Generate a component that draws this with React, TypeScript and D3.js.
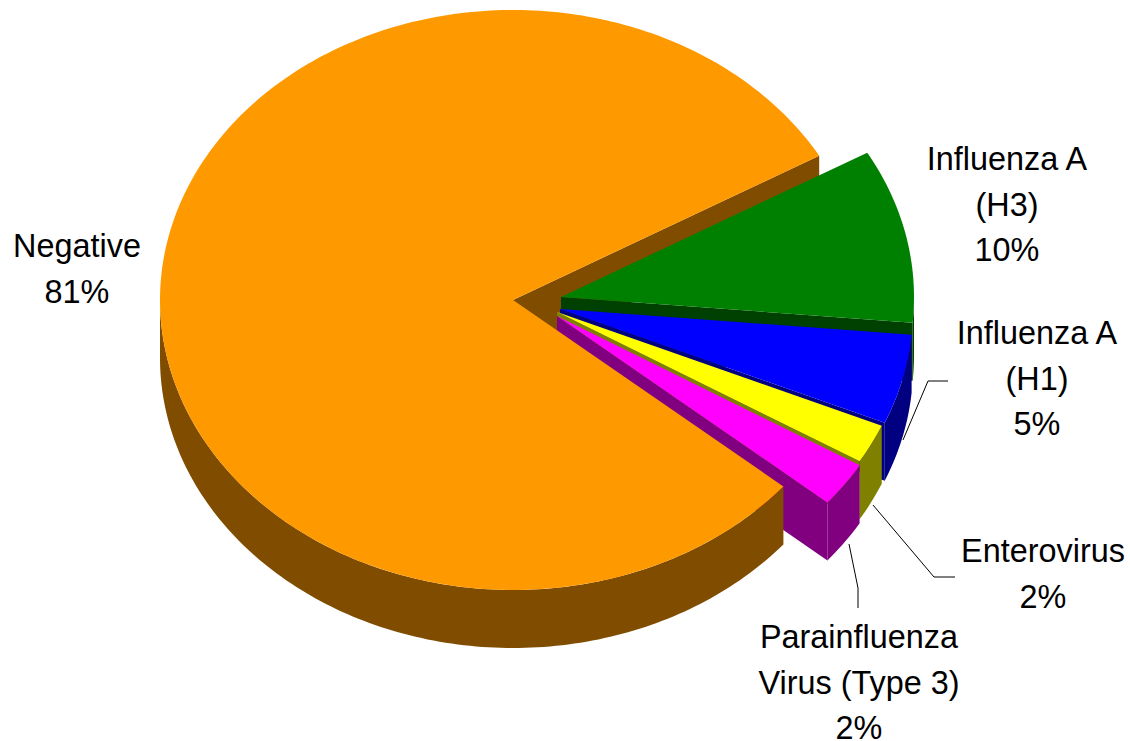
import * as d3 from "d3";

const width = 1130;
const height = 741;

// Chart data
const categories = ["Negative", "Influenza A (H3)", "Influenza A (H1)", "Enterovirus", "Parainfluenza Virus (Type 3)"];
const values = [80.6, 9.7, 5.0, 2.2, 2.5];
const percentLabels = ["81%", "10%", "5%", "2%", "2%"];
const labelLines = [["Negative"], ["Influenza A", "(H3)"], ["Influenza A", "(H1)"], ["Enterovirus"], ["Parainfluenza", "Virus (Type 3)"]];

const topColors = ["#FF9900", "#008000", "#0000FF", "#FFFF00", "#FF00FF"];
const sideColors = ["#804D00", "#004000", "#000080", "#808000", "#800080"];

// Pie position of each slice (the small ones are pulled out)
const centerX = [513, 561, 560, 557, 557];
const centerY = [300, 297, 309, 312, 316];
const labelX = [77, 1007, 1037, 1043, 859];
const labelY = [257, 170, 344, 562, 648];

const leaders = [
  [[948, 381], [928, 381], [903, 440]],
  [[955, 577], [934, 577], [873, 505]],
  [[858, 608], [858, 588], [849, 544]],
];

const rx = 353;
const ry = 290;
const depth = 58;
const lineGap = 45.5;
const fontSize = 32.4;

const rad = (deg: number) => (deg * Math.PI) / 180;

const pie = d3
  .pie<number>()
  .sort(null)
  .startAngle(rad(130))
  .endAngle(rad(130) + 2 * Math.PI);

const slices = pie(values);

const unitX = d3.scaleLinear().domain([-1, 1]).range([-rx, rx]);
const unitY = d3.scaleLinear().domain([-1, 1]).range([ry, -ry]);

const line = d3.line<[number, number]>();

function rimPoint(i: number, a: number, drop = 0): [number, number] {
  return [centerX[i] + unitX(Math.sin(a)), centerY[i] + unitY(Math.cos(a)) + drop];
}

function sweep(a0: number, a1: number) {
  const n = Math.max(2, Math.ceil(Math.abs(a1 - a0) / rad(1)));
  return d3.range(n + 1).map((k) => a0 + ((a1 - a0) * k) / n);
}

// Top face of a slice
function topPath(i: number) {
  const s = slices[i];
  const rim = sweep(s.startAngle, s.endAngle).map((a) => rimPoint(i, a));
  return line([[centerX[i], centerY[i]], ...rim]) + "Z";
}

// Outer wall, only the part turned towards the viewer
function rimWallPath(i: number) {
  const s = slices[i];
  // slices past 12 o'clock carry angles above a full turn
  const turn = s.startAngle >= 2 * Math.PI ? 2 * Math.PI : 0;
  const a0 = Math.max(s.startAngle - turn, rad(90));
  const a1 = Math.min(s.endAngle - turn, rad(270));
  if (a1 <= a0) return null;
  const angles = sweep(a0, a1);
  const upper = angles.map((a) => rimPoint(i, a));
  const lower = angles.slice().reverse().map((a) => rimPoint(i, a, depth));
  return line([...upper, ...lower]) + "Z";
}

// Flat cut face from the slice centre to the rim at angle a
function cutPath(i: number, a: number) {
  const cx = centerX[i];
  const cy = centerY[i];
  return (
    line([
      [cx, cy],
      rimPoint(i, a),
      rimPoint(i, a, depth),
      [cx, cy + depth],
    ]) + "Z"
  );
}

function SliceFaces({ i }: { i: number }) {
  const wall = rimWallPath(i);
  return (
    <g>
      <path d={cutPath(i, slices[i].endAngle)} fill={sideColors[i]} />
      {wall && <path d={wall} fill={sideColors[i]} />}
      <path d={topPath(i)} fill={topColors[i]} />
    </g>
  );
}

export default function App() {
  const pulled = d3.range(1, categories.length);
  const negativeWall = rimWallPath(0);

  return (
    <svg
      width={width}
      height={height}
      viewBox={`0 0 ${width} ${height}`}
      style={{ position: "absolute", left: 0, top: 0, background: "#fff" }}
    >
      {/* back cut of the big slice sits behind everything */}
      <path d={cutPath(0, slices[0].endAngle)} fill={sideColors[0]} />

      {leaders.map((pts, k) => (
        <path key={k} d={line(pts as [number, number][]) ?? ""} fill="none" stroke="#000" strokeWidth={1} />
      ))}

      {pulled.map((i) => (
        <SliceFaces key={categories[i]} i={i} />
      ))}

      {negativeWall && <path d={negativeWall} fill={sideColors[0]} />}
      <path d={topPath(0)} fill={topColors[0]} />

      {categories.map((c, i) => (
        <text
          key={c}
          textAnchor="middle"
          fontFamily="'Liberation Sans', Arial, sans-serif"
          fontSize={fontSize}
          fill="#000"
        >
          {[...labelLines[i], percentLabels[i]].map((t, k) => (
            <tspan key={k} x={labelX[i]} y={labelY[i] + k * lineGap}>
              {t}
            </tspan>
          ))}
        </text>
      ))}
    </svg>
  );
}
